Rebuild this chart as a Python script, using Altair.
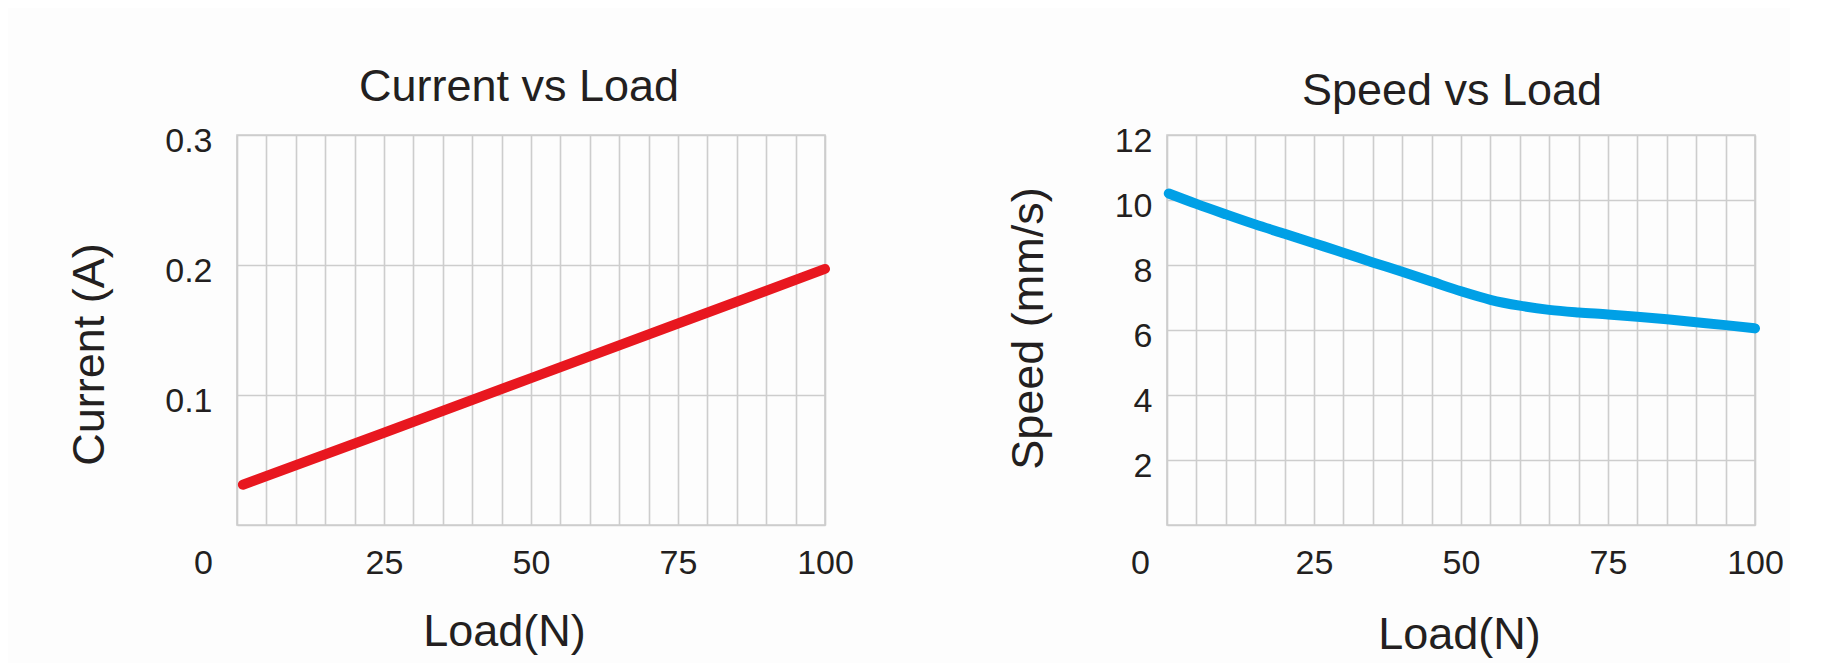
import altair as alt
import pandas as pd

# Current vs Load
load_current = [1, 25, 50, 75, 100]
current_a = [0.031, 0.071, 0.113, 0.155, 0.197]

# Speed vs Load
load_speed = [0.3, 5, 10, 15, 20, 25, 30, 35, 40, 45, 50, 55, 60, 65, 70, 75, 80, 85, 90, 95, 100]
speed_mms = [10.20, 9.88, 9.56, 9.25, 8.96, 8.67, 8.38, 8.08, 7.79, 7.49, 7.19,
             6.93, 6.75, 6.62, 6.54, 6.48, 6.41, 6.33, 6.24, 6.15, 6.05]

x_grid_values = list(range(0, 101, 5))
current_ticks = [0, 0.1, 0.2, 0.3]
speed_ticks = [0, 2, 4, 6, 8, 10, 12]

FONT = "Liberation Sans"
TEXT = "#231f20"
GRID = "#cdcdcd"
BIG = 45

df_c = pd.DataFrame({"load": load_current, "current": current_a})
df_s = pd.DataFrame({"load": load_speed, "speed": speed_mms})


def x_axis(title_x, title_y, zero_off):
    return alt.Axis(
        values=x_grid_values,
        labelExpr="datum.value % 25 == 0 ? datum.label : ''",
        title="Load(N)",
        titleX=title_x,
        titleY=title_y,
        titleBaseline="middle",
        titleFontSize=BIG,
        titleFontWeight="normal",
        titleFont=FONT,
        titleColor=TEXT,
        labelFontSize=34,
        labelFont=FONT,
        labelColor=TEXT,
        labelBaseline="middle",
        labelPadding=38,
        labelOffset={"condition": {"test": "datum.value == 0", "value": zero_off}, "value": 0},
        labelFlush=False,
        labelOverlap=False,
        ticks=False,
        domain=False,
        grid=True,
        gridColor=GRID,
        gridWidth=1.6,
    )


def y_axis(title, values, fmt, title_x, title_y, pad):
    return alt.Axis(
        values=values,
        format=fmt,
        labelExpr="datum.value == 0 ? '' : datum.label",
        title=title,
        titleX=title_x,
        titleY=title_y,
        titleAngle=-90,
        titleBaseline="middle",
        titleAlign="center",
        titleFontSize=BIG,
        titleFontWeight="normal",
        titleFont=FONT,
        titleColor=TEXT,
        labelFontSize=34,
        labelFont=FONT,
        labelColor=TEXT,
        labelPadding=pad,
        labelOffset=6,
        labelFlush=False,
        labelOverlap=False,
        ticks=False,
        domain=False,
        grid=True,
        gridColor=GRID,
        gridWidth=1.6,
    )


left = alt.Chart(df_c, title=alt.Title("Current vs Load", fontSize=BIG, font=FONT,
                                        fontWeight="normal", color=TEXT, offset=14, dx=-12)).mark_line(
    color="#e8171f", strokeWidth=10, strokeCap="round", strokeJoin="round"
).encode(
    x=alt.X("load:Q", scale=alt.Scale(domain=[0, 100], nice=False),
            axis=x_axis(267, 106, -34)),
    y=alt.Y("current:Q", scale=alt.Scale(domain=[0, 0.3], nice=False),
            axis=y_axis("Current (A)", current_ticks, ".1f", -148, 219, 25)),
).properties(width=588, height=390)

right = alt.Chart(df_s, title=alt.Title("Speed vs Load", fontSize=BIG, font=FONT,
                                        fontWeight="normal", color=TEXT, offset=10, dx=-9)).mark_line(
    color="#00a0e6", strokeWidth=10, strokeCap="round", strokeJoin="round", interpolate="monotone"
).encode(
    x=alt.X("load:Q", scale=alt.Scale(domain=[0, 100], nice=False),
            axis=x_axis(292, 109, -27)),
    y=alt.Y("speed:Q", scale=alt.Scale(domain=[0, 12], nice=False),
            axis=y_axis("Speed (mm/s)", speed_ticks, "d", -139, 193, 15)),
).properties(width=588, height=390)

chart = alt.hconcat(left, right, spacing=150).properties(
    padding={"left": 58, "top": 56, "right": 5, "bottom": 5},
    background="#fdfdfd",
).configure_view(stroke=GRID, strokeWidth=1.6)

chart.save("out.html", embed_options={"renderer": "svg", "actions": False})
